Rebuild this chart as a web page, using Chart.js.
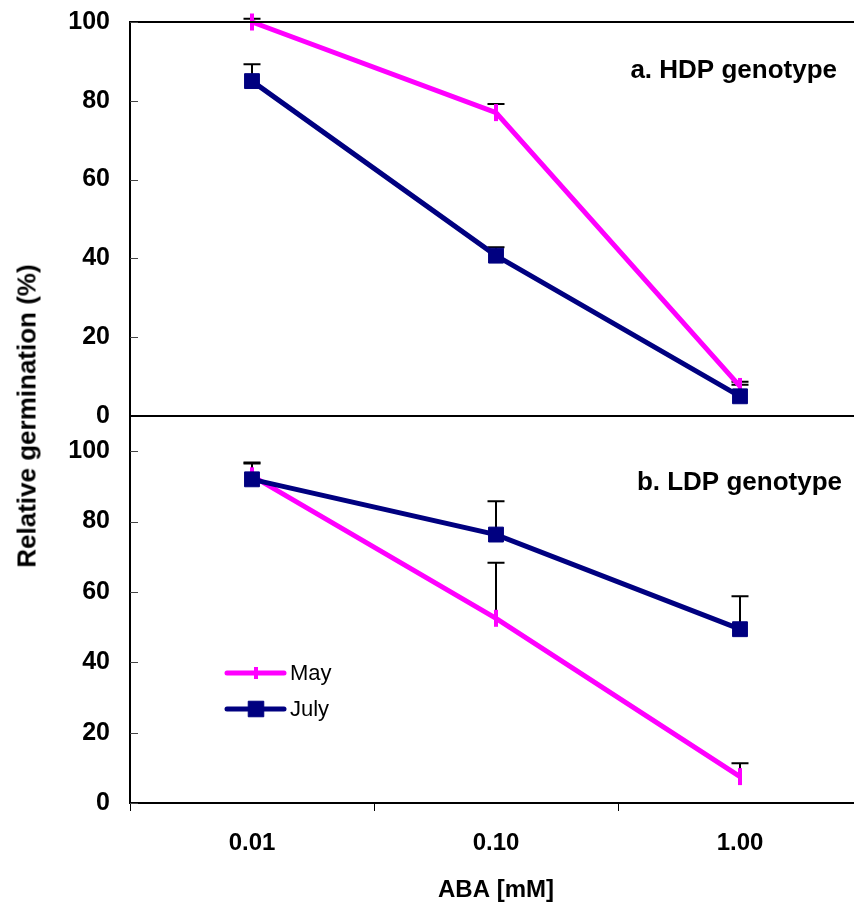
<!DOCTYPE html>
<html>
<head>
<meta charset="utf-8">
<script src="https://cdn.jsdelivr.net/npm/chart.js@4/dist/chart.umd.min.js"></script>
<style>
  html, body { margin: 0; padding: 0; background: #fff; }
  #wrap { position: relative; width: 854px; height: 907px; overflow: hidden; }
  #top { position: absolute; left: 0; top: 0; }
  #bot { position: absolute; left: 0; top: 400px; }
  #ytitle {
    position: absolute; left: 27px; top: 416px;
    transform: translate(-50%, -50%) rotate(-90deg);
    white-space: nowrap;
    font: bold 26px "Liberation Sans", Arial, sans-serif;
    color: #000;
  }
</style>
</head>
<body>
<div id="wrap">
  <canvas id="top" width="870" height="430"></canvas>
  <canvas id="bot" width="870" height="507"></canvas>
  <div id="ytitle">Relative germination (%)</div>
</div>
<script>
// concentraciones (categorías)
const abaLabels = ["0.01", "0.10", "1.00"];

// a. HDP
const hdpMay = [100, 77, 7.5];
const hdpMayErr = [0.8, 2.2, 1.2];
const hdpJuly = [85, 40.7, 5];
const hdpJulyErr = [4.3, 2.1, 2.9];

// b. LDP
const ldpMay = [93, 52.5, 7.5];
const ldpMayErr = [3.5, 15.8, 3.8];
const ldpJuly = [92, 76.3, 49.4];
const ldpJulyErr = [4.8, 9.5, 9.4];

const FONT = "'Liberation Sans', Arial, sans-serif";
const MAY_COLOR = "#ff00ff";
const JULY_COLOR = "#000080";

function mayDataset(data, err) {
    return {
        label: "May",
        data: data,
        err: err,
        borderColor: MAY_COLOR,
        borderWidth: 5,
        tension: 0,
        pointStyle: "line",
        pointRotation: 90,
        pointRadius: 8.5,
        pointBorderWidth: 4,
        pointBorderColor: MAY_COLOR,
        pointBackgroundColor: MAY_COLOR,
        clip: false,
        order: 1
    };
}

function julyDataset(data, err) {
    return {
        label: "July",
        data: data,
        err: err,
        borderColor: JULY_COLOR,
        borderWidth: 5,
        tension: 0,
        pointStyle: "rect",
        pointRadius: 10.5,
        pointBorderWidth: 1,
        pointBorderColor: JULY_COLOR,
        pointBackgroundColor: JULY_COLOR,
        clip: false,
        order: 0
    };
}

// barras de error (solo hacia arriba)
const errorBars = {
    id: "errorBars",
    beforeDatasetsDraw(chart) {
        const ctx = chart.ctx;
        const y = chart.scales.y;
        ctx.save();
        ctx.strokeStyle = "#000";
        ctx.lineWidth = 2;
        chart.data.datasets.forEach((ds, i) => {
            const meta = chart.getDatasetMeta(i);
            meta.data.forEach((pt, j) => {
                const top = y.getPixelForValue(ds.data[j] + ds.err[j]);
                ctx.beginPath();
                ctx.moveTo(pt.x, pt.y);
                ctx.lineTo(pt.x, top);
                ctx.moveTo(pt.x - 8.5, top);
                ctx.lineTo(pt.x + 8.5, top);
                ctx.stroke();
            });
        });
        ctx.restore();
    }
};

// marco, marcas interiores, rótulo del panel y leyenda
const panelDeco = {
    id: "panelDeco",
    afterDraw(chart, args, opts) {
        const ctx = chart.ctx;
        const a = chart.chartArea;
        ctx.save();
        ctx.strokeStyle = "#000";
        ctx.lineWidth = 2;
        ctx.beginPath();
        ctx.moveTo(a.left - 1, a.top);
        ctx.lineTo(a.right, a.top);
        if (opts.bottomLine) {
            ctx.moveTo(a.left - 1, a.bottom);
            ctx.lineTo(a.right, a.bottom);
        }
        ctx.stroke();

        const y = chart.scales.y;
        ctx.lineWidth = 1;
        ctx.strokeStyle = "#444";
        y.ticks.forEach(t => {
            const py = Math.round(y.getPixelForValue(t.value)) + 0.5;
            ctx.beginPath();
            ctx.moveTo(a.left, py);
            ctx.lineTo(a.left + 8, py);
            ctx.stroke();
        });

        ctx.fillStyle = "#000";
        ctx.font = "bold 26px " + FONT;
        ctx.textAlign = "right";
        ctx.textBaseline = "alphabetic";
        ctx.fillText(opts.label, opts.lx, opts.ly);

        if (opts.legend) {
            ctx.font = "22px " + FONT;
            ctx.textAlign = "left";
            ctx.textBaseline = "middle";
            opts.legend.forEach(it => {
                const ds = chart.data.datasets[it.index];
                const ly = it.y;
                ctx.strokeStyle = ds.borderColor;
                ctx.lineWidth = 5;
                ctx.lineCap = "round";
                ctx.beginPath();
                ctx.moveTo(227, ly);
                ctx.lineTo(284, ly);
                ctx.stroke();
                ctx.lineCap = "butt";
                ctx.fillStyle = ds.pointBackgroundColor;
                ctx.strokeStyle = ds.pointBorderColor;
                ctx.lineWidth = ds.pointBorderWidth;
                Chart.helpers.drawPoint(ctx, {
                    pointStyle: ds.pointStyle,
                    rotation: ds.pointRotation || 0,
                    radius: ds.pointStyle === "rect" ? 11 : 6,
                    borderWidth: ds.pointBorderWidth
                }, 256, ly);
                ctx.fillStyle = "#000";
                ctx.fillText(ds.label, 290, ly + 1);
            });
        }
        ctx.restore();
    }
};

function yAxis(max) {
    return {
        min: 0,
        max: max,
        ticks: {
            stepSize: 20,
            includeBounds: false,
            padding: 20,
            color: "#000",
            font: { family: FONT, size: 25, weight: "bold" }
        },
        grid: { display: false, drawTicks: false },
        border: { display: true, color: "#000", width: 2 },
        afterFit(scale) {
            scale.width = 130;
            scale.paddingTop = 0;
            scale.paddingBottom = 0;
        }
    };
}

// panel a
new Chart(document.getElementById("top").getContext("2d"), {
    type: "line",
    data: {
        labels: abaLabels,
        datasets: [mayDataset(hdpMay, hdpMayErr), julyDataset(hdpJuly, hdpJulyErr)]
    },
    options: {
        responsive: false,
        animation: false,
        layout: { autoPadding: false, padding: { left: 0, top: 22, right: 8, bottom: 14 } },
        plugins: {
            legend: { display: false },
            tooltip: { enabled: false },
            panelDeco: { label: "a. HDP genotype", lx: 837, ly: 78, bottomLine: true }
        },
        scales: {
            x: { display: false, offset: true },
            y: yAxis(100)
        }
    },
    plugins: [errorBars, panelDeco]
});

// panel b
new Chart(document.getElementById("bot").getContext("2d"), {
    type: "line",
    data: {
        labels: abaLabels,
        datasets: [mayDataset(ldpMay, ldpMayErr), julyDataset(ldpJuly, ldpJulyErr)]
    },
    options: {
        responsive: false,
        animation: false,
        layout: { autoPadding: false, padding: { left: 0, top: 16, right: 8, bottom: 0 } },
        plugins: {
            legend: { display: false },
            tooltip: { enabled: false },
            panelDeco: {
                label: "b. LDP genotype", lx: 842, ly: 90, bottomLine: false,
                legend: [{ index: 0, y: 273 }, { index: 1, y: 309 }]
            }
        },
        scales: {
            x: {
                offset: true,
                ticks: {
                    padding: 18,
                    color: "#000",
                    font: { family: FONT, size: 24, weight: "bold" }
                },
                grid: {
                    display: true, offset: true, drawOnChartArea: false,
                    drawTicks: true, tickLength: 8, color: "#000", lineWidth: 1
                },
                border: { display: true, color: "#000", width: 2 },
                title: {
                    display: true,
                    text: "ABA [mM]",
                    color: "#000",
                    font: { family: FONT, size: 24, weight: "bold" },
                    padding: { top: 0, bottom: 2 }
                },
                afterFit(scale) { scale.height = 104; }
            },
            y: yAxis(110)
        }
    },
    plugins: [errorBars, panelDeco]
});
</script>
</body>
</html>
